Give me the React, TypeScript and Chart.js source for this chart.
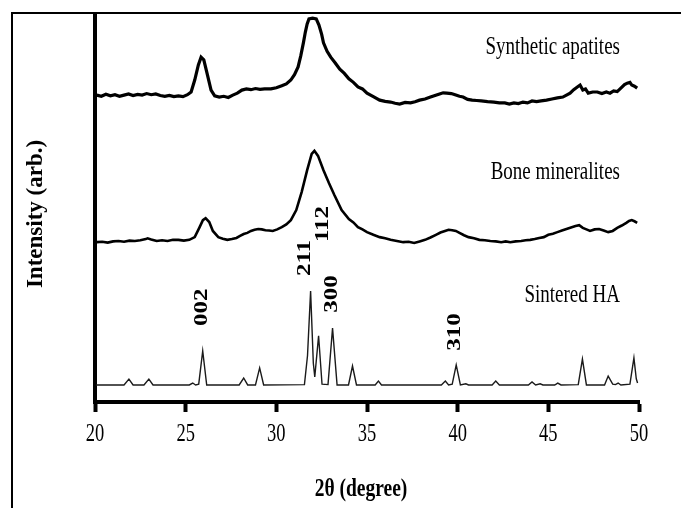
import React, { useEffect, useRef } from "react";
import { Chart, registerables } from "chart.js";

Chart.register(...registerables);

// 2θ positions and intensities (arb., stacked patterns)
const synthX = [20.1, 20.35, 20.6, 20.85, 21.1, 21.35, 21.6, 21.85, 22.1, 22.35, 22.6, 22.85, 23.1, 23.35, 23.6, 23.85, 24.1, 24.35, 24.6, 24.85, 25.1, 25.3, 25.5, 25.7, 25.85, 26.0, 26.2, 26.4, 26.6, 26.85, 27.1, 27.35, 27.6, 27.85, 28.1, 28.35, 28.6, 28.85, 29.1, 29.35, 29.7, 30.0, 30.3, 30.55, 30.8, 31.0, 31.2, 31.35, 31.5, 31.6, 31.7, 31.8, 32.0, 32.2, 32.35, 32.5, 32.6, 32.8, 33.0, 33.25, 33.5, 33.75, 34.0, 34.25, 34.5, 34.75, 35.0, 35.35, 35.7, 36.0, 36.3, 36.55, 36.8, 37.1, 37.4, 37.65, 37.9, 38.2, 38.5, 38.75, 39.0, 39.2, 39.4, 39.65, 39.9, 40.1, 40.3, 40.55, 40.8, 41.05, 41.3, 41.65, 42.0, 42.3, 42.6, 42.85, 43.1, 43.35, 43.6, 43.85, 44.1, 44.35, 44.6, 44.9, 45.2, 45.5, 45.8, 46.0, 46.2, 46.4, 46.6, 46.75, 46.9, 47.05, 47.2, 47.45, 47.7, 47.95, 48.2, 48.4, 48.6, 48.8, 49.0, 49.2, 49.35, 49.5, 49.6, 49.75, 49.9];
const synthY = [79.3, 79.0, 79.5, 79.1, 79.4, 79.0, 79.3, 79.6, 79.2, 79.5, 79.3, 79.7, 79.4, 79.6, 79.2, 79.0, 79.2, 78.9, 79.1, 78.9, 79.4, 80.1, 83.2, 87.1, 89.1, 88.4, 84.5, 80.6, 79.1, 78.8, 79.0, 78.7, 79.3, 79.8, 80.6, 80.9, 80.7, 81.0, 80.8, 80.9, 80.9, 81.2, 81.7, 82.2, 83.2, 84.6, 86.6, 89.5, 93.0, 95.6, 97.7, 99.0, 99.2, 99.0, 97.4, 95.0, 92.8, 90.6, 89.1, 87.6, 86.0, 84.9, 83.5, 82.6, 81.4, 80.9, 79.8, 78.9, 78.0, 77.7, 77.5, 77.2, 77.0, 77.4, 77.3, 77.6, 78.0, 78.3, 78.8, 79.2, 79.6, 79.9, 79.8, 79.7, 79.3, 79.0, 78.8, 78.2, 78.0, 77.9, 77.8, 77.6, 77.5, 77.3, 77.3, 77.0, 77.3, 77.1, 77.5, 77.3, 77.8, 77.6, 77.8, 78.0, 78.3, 78.6, 78.8, 79.3, 79.8, 80.7, 81.4, 81.9, 80.6, 80.9, 79.8, 80.1, 80.1, 79.7, 80.1, 79.8, 80.4, 80.2, 81.1, 82.0, 82.4, 82.6, 81.9, 81.6, 81.1];

const boneX = [20.1, 20.4, 20.7, 21.0, 21.3, 21.6, 21.9, 22.2, 22.5, 22.8, 22.9, 23.1, 23.4, 23.7, 24.0, 24.3, 24.6, 24.9, 25.2, 25.5, 25.75, 25.95, 26.1, 26.3, 26.5, 26.8, 27.05, 27.3, 27.55, 27.8, 28.0, 28.2, 28.4, 28.6, 28.8, 29.0, 29.2, 29.4, 29.6, 29.8, 30.05, 30.3, 30.55, 30.8, 31.1, 31.4, 31.7, 31.95, 32.1, 32.3, 32.6, 32.9, 33.2, 33.6, 34.0, 34.25, 34.5, 34.75, 35.0, 35.35, 35.7, 36.0, 36.3, 36.65, 37.0, 37.3, 37.6, 37.9, 38.2, 38.5, 38.8, 39.05, 39.3, 39.5, 39.7, 39.9, 40.1, 40.35, 40.6, 40.9, 41.2, 41.5, 41.8, 42.1, 42.4, 42.65, 42.9, 43.2, 43.5, 43.75, 44.0, 44.25, 44.5, 44.75, 45.0, 45.25, 45.5, 45.75, 46.0, 46.25, 46.5, 46.7, 46.9, 47.1, 47.3, 47.55, 47.8, 48.05, 48.3, 48.55, 48.8, 49.05, 49.3, 49.45, 49.6, 49.75, 49.9];
const boneY = [41.3, 41.4, 41.2, 41.5, 41.6, 41.4, 41.7, 41.6, 41.8, 42.1, 42.3, 42.0, 41.6, 41.8, 41.6, 41.9, 41.9, 41.7, 41.9, 42.6, 45.0, 47.0, 47.5, 46.5, 44.2, 42.6, 42.2, 41.9, 42.1, 42.4, 42.9, 43.4, 43.7, 44.2, 44.5, 44.7, 44.6, 44.4, 44.3, 44.2, 44.6, 45.2, 45.9, 47.0, 49.6, 54.3, 59.9, 64.1, 64.9, 63.6, 59.9, 56.6, 53.5, 49.6, 47.3, 46.4, 45.2, 44.6, 43.9, 43.2, 42.6, 42.3, 41.9, 41.6, 41.3, 41.4, 41.1, 41.5, 41.9, 42.5, 43.2, 43.8, 44.2, 44.5, 44.4, 44.2, 43.7, 43.1, 42.6, 42.3, 41.9, 41.8, 41.6, 41.5, 41.3, 41.5, 41.3, 41.5, 41.6, 41.8, 41.9, 42.1, 42.4, 42.6, 43.2, 43.5, 43.9, 44.3, 44.7, 45.1, 45.5, 45.7, 45.0, 44.6, 44.2, 44.6, 44.7, 44.3, 43.9, 44.2, 45.0, 45.6, 46.3, 46.8, 47.0, 46.7, 46.3];

const sintX = [20.05, 21.6, 21.87, 22.1, 22.7, 22.97, 23.2, 25.2, 25.39, 25.55, 25.72, 25.94, 26.16, 27.95, 28.2, 28.42, 28.85, 29.08, 29.3, 31.55, 31.72, 31.89, 32.04, 32.12, 32.33, 32.52, 32.85, 33.1, 33.35, 33.98, 34.2, 34.42, 35.45, 35.63, 35.8, 39.1, 39.32, 39.5, 39.7, 39.92, 40.15, 40.45, 40.6, 41.9, 42.1, 42.3, 43.9, 44.1, 44.3, 44.55, 44.7, 45.35, 45.52, 45.7, 46.65, 46.88, 47.1, 48.1, 48.3, 48.55, 48.7, 48.85, 49.0, 49.5, 49.72, 49.85, 49.92];
const sintY = [4.4, 4.4, 5.9, 4.4, 4.4, 5.9, 4.4, 4.4, 4.9, 4.4, 4.6, 13.2, 4.4, 4.4, 6.2, 4.4, 4.4, 8.8, 4.4, 4.5, 12.0, 28.7, 10.0, 6.5, 17.1, 4.6, 4.5, 19.1, 4.4, 4.4, 9.3, 4.4, 4.4, 5.4, 4.4, 4.4, 5.4, 4.4, 4.6, 9.6, 4.4, 4.7, 4.4, 4.4, 5.4, 4.4, 4.4, 5.2, 4.4, 4.7, 4.4, 4.4, 4.9, 4.4, 4.5, 11.1, 4.4, 4.4, 6.7, 4.6, 4.5, 4.9, 4.4, 4.6, 11.4, 6.0, 4.9];

const xTicks = [20, 25, 30, 35, 40, 45, 50];

const seriesNames = ["Synthetic apatites", "Bone mineralites", "Sintered HA"];
const seriesLabelY = [91.7, 59.4, 27.6];
const seriesLabelX = 48.95;

const millerLabels = ["002", "211", "112", "300", "310"];
const millerX = [25.9, 31.6, 32.55, 33.05, 39.87];
const millerY = [24.5, 37.2, 46.0, 27.9, 18.1];

const pts = (xs: number[], ys: number[]) => xs.map((x, i) => ({ x, y: ys[i] }));

const SERIF = '"Liberation Serif", "Times New Roman", serif';

const textPlugin = {
  id: "xrdText",
  afterDraw(chart: any) {
    const ctx = chart.ctx as CanvasRenderingContext2D;
    const xs = chart.scales.x;
    const ys = chart.scales.y;
    const area = chart.chartArea;
    ctx.save();
    ctx.fillStyle = "#000";
    ctx.strokeStyle = "#000";

    // outer frame (top & left)
    ctx.lineWidth = 2;
    ctx.beginPath();
    ctx.moveTo(12, 508);
    ctx.lineTo(12, 13);
    ctx.lineTo(681, 13);
    ctx.stroke();

    const squeezed = (txt: string, x: number, y: number, font: string, sx: number, align: CanvasTextAlign) => {
      ctx.save();
      ctx.translate(x, y);
      ctx.scale(sx, 1);
      ctx.font = font;
      ctx.textAlign = align;
      ctx.textBaseline = "middle";
      ctx.fillText(txt, 0, 0);
      ctx.restore();
    };

    // tick labels
    xTicks.forEach((v) => {
      squeezed(String(v), xs.getPixelForValue(v), area.bottom + 32, `25px ${SERIF}`, 0.74, "center");
    });

    // x title
    squeezed("2θ (degree)", (area.left + area.right) / 2 - 6, 490, `bold 25px ${SERIF}`, 0.78, "center");

    // y title
    ctx.save();
    ctx.translate(36, 214);
    ctx.rotate(-Math.PI / 2);
    ctx.font = `bold 23px ${SERIF}`;
    ctx.textAlign = "center";
    ctx.textBaseline = "middle";
    ctx.fillText("Intensity (arb.)", 0, 0);
    ctx.restore();

    // series names
    seriesNames.forEach((name, i) => {
      squeezed(name, xs.getPixelForValue(seriesLabelX), ys.getPixelForValue(seriesLabelY[i]), `25px ${SERIF}`, 0.76, "right");
    });

    // Miller indices
    millerLabels.forEach((lab, i) => {
      ctx.save();
      ctx.translate(xs.getPixelForValue(millerX[i]), ys.getPixelForValue(millerY[i]));
      ctx.rotate(-Math.PI / 2);
      ctx.scale(1, 0.78);
      ctx.font = `bold 25px ${SERIF}`;
      ctx.textAlign = "center";
      ctx.textBaseline = "middle";
      ctx.fillText(lab, 0, 0);
      ctx.restore();
    });

    ctx.restore();
  },
};

export default function App() {
  const ref = useRef<HTMLCanvasElement | null>(null);
  useEffect(() => {
    if (!ref.current) return;
    const chart = new Chart(ref.current, {
      type: "line",
      data: {
        datasets: [
          { label: seriesNames[0], data: pts(synthX, synthY), borderColor: "#000", borderWidth: 3.2, pointRadius: 0, tension: 0 },
          { label: seriesNames[1], data: pts(boneX, boneY), borderColor: "#000", borderWidth: 2.6, pointRadius: 0, tension: 0 },
          { label: seriesNames[2], data: pts(sintX, sintY), borderColor: "#1a1a1a", borderWidth: 1.4, pointRadius: 0, tension: 0 },
        ],
      },
      options: {
        animation: false,
        responsive: true,
        maintainAspectRatio: false,
        events: [],
        layout: { padding: { left: 95, top: 15, right: 42, bottom: 96 } },
        plugins: { legend: { display: false }, tooltip: { enabled: false } },
        scales: {
          x: {
            type: "linear",
            min: 20,
            max: 50,
            afterBuildTicks: (s: any) => {
              s.ticks = xTicks.map((v) => ({ value: v }));
            },
            ticks: { display: false },
            grid: { display: true, drawOnChartArea: false, drawTicks: true, tickLength: 10, tickWidth: 4, tickColor: "#000" },
            border: { display: true, width: 4, color: "#000" },
          },
          y: {
            type: "linear",
            min: 0,
            max: 100,
            ticks: { display: false },
            grid: { display: false, drawTicks: false },
            border: { display: true, width: 4, color: "#000" },
          },
        },
      },
      plugins: [textPlugin],
    });
    return () => chart.destroy();
  }, []);
  return (
    <div style={{ position: "absolute", left: 0, top: 0, width: 681, height: 508, background: "#fff" }}>
      <canvas ref={ref} />
    </div>
  );
}
